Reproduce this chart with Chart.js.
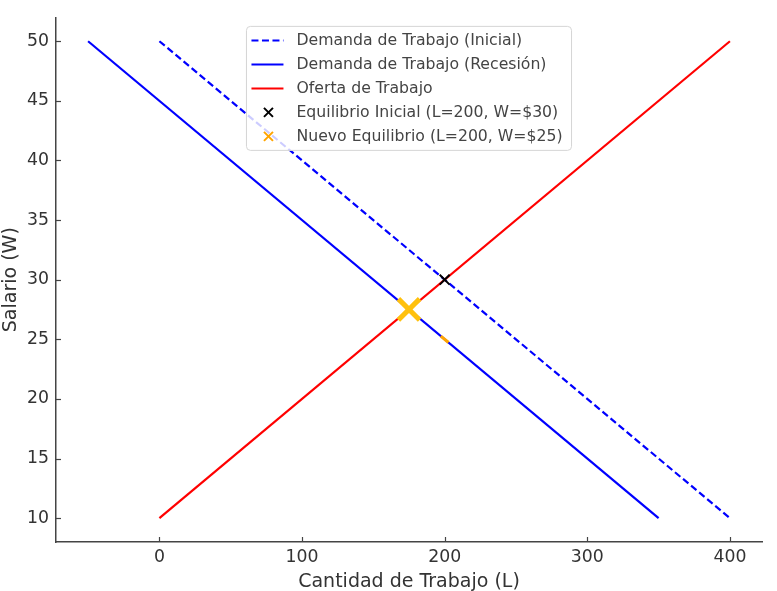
<!DOCTYPE html>
<html>
<head>
<meta charset="utf-8">
<script src="https://cdn.jsdelivr.net/npm/chart.js@4"></script>
<style>
  html, body { margin: 0; padding: 0; background: #fff; }
  #wrap { width: 777px; height: 591px; position: relative; }
</style>
</head>
<body>
<div id="wrap"><canvas id="chart"></canvas></div>
<script>
// Datos del gráfico
const demandaInicialL = [0, 400];
const demandaInicialW = [50, 10];
const demandaRecesionL = [-50, 350];
const demandaRecesionW = [50, 10];
const ofertaL = [0, 400];
const ofertaW = [10, 50];
const equilibrioInicial = [200, 30];
const nuevoEquilibrio = [200, 25];
const cruceRecesion = [175, 27.5];
const xTicks = [0, 100, 200, 300, 400];
const yTicks = [10, 15, 20, 25, 30, 35, 40, 45, 50];
const legendLabels = [
    "Demanda de Trabajo (Inicial)",
    "Demanda de Trabajo (Recesión)",
    "Oferta de Trabajo",
    "Equilibrio Inicial (L=200, W=$30)",
    "Nuevo Equilibrio (L=200, W=$25)"
];

const pts = (xs, ys) => xs.map((x, i) => ({ x: x, y: ys[i] }));
const FONT = "'DejaVu Sans', sans-serif";
const INK = "#333";
const DASH = [7, 3.5];

// Ticks hacia dentro + leyenda estilo matplotlib
const decor = {
    id: "decor",
    afterDraw(chart) {
        const c = chart.ctx;
        const a = chart.chartArea;
        const sx = chart.scales.x, sy = chart.scales.y;
        c.save();
        c.strokeStyle = "#444";
        c.lineWidth = 1.2;
        xTicks.forEach(v => {
            const px = Math.round(sx.getPixelForValue(v)) + 0.5;
            c.beginPath(); c.moveTo(px, a.bottom); c.lineTo(px, a.bottom - 5); c.stroke();
        });
        yTicks.forEach(v => {
            const py = Math.round(sy.getPixelForValue(v)) + 0.5;
            c.beginPath(); c.moveTo(a.left, py); c.lineTo(a.left + 5, py); c.stroke();
        });

        // leyenda
        c.font = "15.7px " + FONT;
        const maxW = Math.max(...legendLabels.map(t => c.measureText(t).width));
        const w = 50 + maxW + 9;
        const h = 124;
        const left = (a.left + a.right) / 2 - w / 2;
        const top = a.top + 9;
        c.beginPath();
        c.roundRect(left, top, w, h, 4);
        c.fillStyle = "rgba(255,255,255,0.8)";
        c.fill();
        c.strokeStyle = "#d5d5d5";
        c.lineWidth = 1;
        c.stroke();

        const styles = [
            { type: "line", color: "#0000ff", dash: DASH },
            { type: "line", color: "#0000ff", dash: [] },
            { type: "line", color: "#ff0000", dash: [] },
            { type: "x", color: "#000000" },
            { type: "x", color: "#ffa500" }
        ];
        legendLabels.forEach((t, i) => {
            const cy = top + 14 + i * 24;
            const s = styles[i];
            c.strokeStyle = s.color;
            c.lineWidth = 2;
            if (s.type === "line") {
                c.setLineDash(s.dash);
                c.beginPath(); c.moveTo(left + 5, cy); c.lineTo(left + 37, cy); c.stroke();
                c.setLineDash([]);
            } else {
                const mx = left + 22, r = 4.5;
                c.beginPath();
                c.moveTo(mx - r, cy - r); c.lineTo(mx + r, cy + r);
                c.moveTo(mx - r, cy + r); c.lineTo(mx + r, cy - r);
                c.stroke();
            }
            c.fillStyle = "#444";
            c.textBaseline = "middle";
            c.textAlign = "left";
            c.fillText(t, left + 50, cy + 1);
        });
        c.restore();
    }
};

new Chart(document.getElementById("chart"), {
    type: "scatter",
    data: {
        datasets: [
            {
                data: pts(demandaInicialL, demandaInicialW),
                showLine: true, borderColor: "#0000ff", borderWidth: 2.2,
                borderDash: DASH, pointRadius: 0, order: 5
            },
            {
                data: pts(demandaRecesionL, demandaRecesionW),
                showLine: true, borderColor: "#0000ff", borderWidth: 2.2,
                pointRadius: 0, order: 3
            },
            {
                data: pts(ofertaL, ofertaW),
                showLine: true, borderColor: "#ff0000", borderWidth: 2.2,
                pointRadius: 0, order: 4
            },
            {
                data: [{ x: equilibrioInicial[0], y: equilibrioInicial[1] }],
                pointStyle: "crossRot", pointRadius: 7, borderWidth: 2,
                borderColor: "#000", backgroundColor: "#000", order: 1
            },
            {
                data: [{ x: nuevoEquilibrio[0], y: nuevoEquilibrio[1] }],
                pointStyle: "line", rotation: 40, pointRadius: 5, borderWidth: 3,
                borderColor: "#ffa500", backgroundColor: "#ffa500", order: 2
            },
            {
                data: [{ x: cruceRecesion[0], y: cruceRecesion[1] }],
                pointStyle: "crossRot", pointRadius: 15, borderWidth: 5,
                borderColor: "#ffc10e", backgroundColor: "#ffc10e", order: 0
            }
        ]
    },
    options: {
        responsive: true,
        maintainAspectRatio: false,
        animation: false,
        layout: { autoPadding: false, padding: { top: 15, right: 15, left: 0, bottom: 0 } },
        plugins: { legend: { display: false }, tooltip: { enabled: false } },
        scales: {
            x: {
                type: "linear", min: -72.5, max: 422.5,
                afterBuildTicks: s => { s.ticks = xTicks.map(v => ({ value: v })); },
                afterFit: s => { s.height = 49; },
                grid: { drawOnChartArea: false, drawTicks: false },
                border: { display: true, color: "#444", width: 1.5 },
                ticks: { color: INK, font: { family: FONT, size: 17.3 }, padding: 5, maxRotation: 0 },
                title: {
                    display: true, text: "Cantidad de Trabajo (L)", color: INK,
                    font: { family: FONT, size: 19 }, padding: { top: 0, bottom: -2 }
                }
            },
            y: {
                type: "linear", min: 8, max: 52,
                afterBuildTicks: s => { s.ticks = yTicks.map(v => ({ value: v })); },
                afterFit: s => { s.width = 56; },
                grid: { drawOnChartArea: false, drawTicks: false },
                border: { display: true, color: "#444", width: 1.5 },
                ticks: { color: INK, font: { family: FONT, size: 17.3 }, padding: 7 },
                title: {
                    display: true, text: "Salario (W)", color: INK,
                    font: { family: FONT, size: 19 }, padding: { top: 0, bottom: 0 }
                }
            }
        }
    },
    plugins: [decor]
});
</script>
</body>
</html>
